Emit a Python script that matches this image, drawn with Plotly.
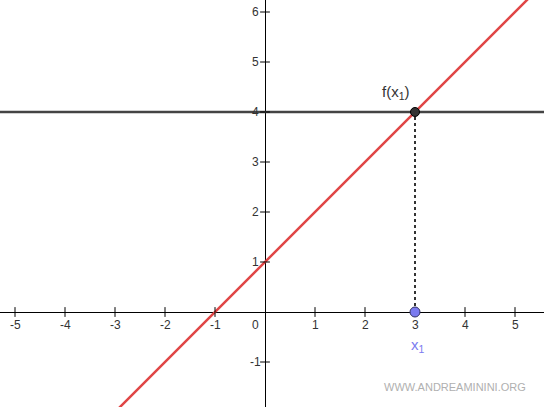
import plotly.graph_objects as go

x_ticks = [-5, -4, -3, -2, -1, 1, 2, 3, 4, 5]
y_ticks = [-1, 1, 2, 3, 4, 5, 6]
line_x = [-5.3, 5.6]
line_y = [x + 1 for x in line_x]
level = 4
x1 = 3

fig = go.Figure()
# y = x + 1
fig.add_trace(go.Scatter(x=line_x, y=line_y, mode="lines",
                         line=dict(color="#e04545", width=2.5)))
# y = 4
fig.add_trace(go.Scatter(x=line_x, y=[level, level], mode="lines",
                         line=dict(color="#444444", width=2.5)))
# dotted drop line
fig.add_trace(go.Scatter(x=[x1, x1], y=[0, level], mode="lines",
                         line=dict(color="#333333", width=2, dash="dot")))
# tick marks
fig.add_trace(go.Scatter(x=x_ticks, y=[0]*len(x_ticks), mode="markers",
                         marker=dict(symbol="line-ns", size=7,
                                     line=dict(color="black", width=1))))
fig.add_trace(go.Scatter(x=[0]*len(y_ticks), y=y_ticks, mode="markers",
                         marker=dict(symbol="line-ew", size=7,
                                     line=dict(color="black", width=1))))
# points
fig.add_trace(go.Scatter(x=[x1], y=[level], mode="markers",
                         marker=dict(size=9, color="#333333",
                                     line=dict(color="black", width=1))))
fig.add_trace(go.Scatter(x=[x1], y=[0], mode="markers",
                         marker=dict(size=10, color="#7b7bf0",
                                     line=dict(color="#333366", width=1))))

ann = []
for t in x_ticks:
    ann.append(dict(x=t, y=0, text=str(t), showarrow=False, yshift=-13))
for t in y_ticks:
    ann.append(dict(x=0, y=t, text=str(t), showarrow=False, xshift=-10))
ann.append(dict(x=0, y=0, text="0", showarrow=False, xshift=-10, yshift=-13))
ann.append(dict(x=x1, y=level, text="f(x<sub>1</sub>)", showarrow=False,
                xshift=-19, yshift=20, font=dict(size=15, color="#333333")))
ann.append(dict(x=x1, y=0, text="x<sub>1</sub>", showarrow=False,
                xshift=3, yshift=-33, font=dict(size=15, color="#7b7bf0")))
ann.append(dict(x=1, y=0, xref="paper", yref="paper", xanchor="right",
                yanchor="bottom", text="WWW.ANDREAMININI.ORG", showarrow=False,
                xshift=-16, yshift=12, font=dict(size=11, color="#b0b0b0")))

fig.update_layout(
    width=544, height=407,
    margin=dict(l=0, r=0, t=0, b=0, pad=0, autoexpand=False),
    plot_bgcolor="white", paper_bgcolor="white", showlegend=False,
    font=dict(family="Liberation Sans", size=12, color="#333333"),
    annotations=ann,
    xaxis=dict(range=[-5.3, 5.58], showgrid=False, showticklabels=False,
               ticks="", automargin=False,
               zeroline=True, zerolinecolor="black", zerolinewidth=1),
    yaxis=dict(range=[-1.9, 6.24], showgrid=False, showticklabels=False,
               ticks="", automargin=False,
               zeroline=True, zerolinecolor="black", zerolinewidth=1),
)
fig.write_html("out.html", config={"displayModeBar": False},
               post_script="document.body.style.margin='0';")
